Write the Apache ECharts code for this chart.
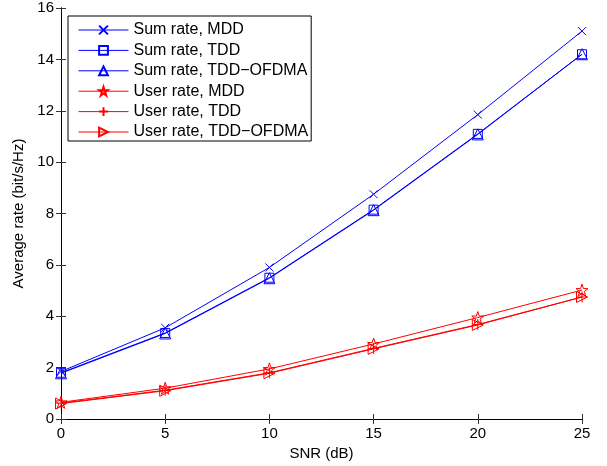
<!DOCTYPE html>
<html>
<head>
<meta charset="utf-8">
<script src="https://cdn.jsdelivr.net/npm/echarts@6/dist/echarts.min.js"></script>
<style>html,body{margin:0;padding:0;background:#fff;}#c{width:607px;height:466px;}</style>
</head>
<body>
<div id="c"></div>
<script>
const snr = [0, 5, 10, 15, 20, 25];
const sumMDD = [1.85, 3.55, 5.9, 8.75, 11.85, 15.1];
const sumTDD = [1.8, 3.35, 5.5, 8.15, 11.1, 14.2];
const sumOFDMA = [1.78, 3.33, 5.48, 8.13, 11.08, 14.2];
const userMDD = [0.65, 1.2, 1.95, 2.92, 3.95, 5.02];
const userTDD = [0.62, 1.12, 1.8, 2.75, 3.68, 4.75];
const userOFDMA = [0.6, 1.1, 1.78, 2.73, 3.66, 4.75];
const names = ['Sum rate, MDD', 'Sum rate, TDD', 'Sum rate, TDD\u2212OFDMA',
               'User rate, MDD', 'User rate, TDD', 'User rate, TDD\u2212OFDMA'];
const xTicks = [0, 5, 10, 15, 20, 25];
const yTicks = [0, 2, 4, 6, 8, 10, 12, 14, 16];

const FONT = 'Liberation Sans, Arial, Helvetica, sans-serif';
const BLUE = '#0000ff', RED = '#ff0000';
const SYM = {
  x: 'path://M0,0L10,10M10,0L0,10',
  rect: 'path://M0,0L10,0L10,10L0,10Z',
  tri: 'path://M5,0L10,9L0,9Z',
  star: 'path://M5,0L6.2,3.6L10,3.6L6.9,5.9L8.1,9.5L5,7.3L1.9,9.5L3.1,5.9L0,3.6L3.8,3.6Z',
  plus: 'path://M5,0L5,10M0,5L10,5',
  rtri: 'path://M0,0L10,5L0,10Z'
};
function mk(name, data, color, symbol, size) {
  return {
    name: name, type: 'line', data: snr.map((x, i) => [x, data[i]]),
    symbol: symbol, symbolSize: size, showSymbol: true,
    itemStyle: { color: 'rgba(0,0,0,0)', borderColor: color, borderWidth: 1 },
    lineStyle: { color: color, width: 1 },
    animation: false, z: 3
  };
}
const chart = echarts.init(document.getElementById('c'), null, { renderer: 'canvas' });
const axisCommon = {
  axisLine: { show: true, lineStyle: { color: '#000', width: 1 } },
  axisTick: { show: true, inside: true, length: 5, lineStyle: { color: '#333' } },
  splitLine: { show: false }
};
chart.setOption({
  backgroundColor: '#fff',
  textStyle: { fontFamily: FONT },
  grid: { left: 61, right: 25, top: 8, bottom: 47 },
  legend: {
    orient: 'vertical', left: 68, top: 16,
    data: names,
    itemWidth: 50, itemHeight: 11, itemGap: 4.4,
    padding: [6, 3, 1, 10],
    borderColor: '#000', borderWidth: 1, backgroundColor: '#fff',
    lineStyle: { width: 1 },
    textStyle: { fontSize: 16, color: '#000', fontFamily: FONT, padding: [0, 0, 0, 0] }
  },
  xAxis: [
    Object.assign({
      type: 'value', min: 0, max: 25, interval: 5, position: 'bottom',
      name: 'SNR (dB)', nameLocation: 'middle', nameGap: 25,
      nameTextStyle: { fontSize: 15, color: '#000', fontFamily: FONT },
      axisLabel: { fontSize: 15, color: '#000', margin: 7, fontFamily: FONT }
    }, axisCommon),
    Object.assign({
      type: 'value', min: 0, max: 25, interval: 5, position: 'top',
      axisLabel: { show: false }
    }, axisCommon)
  ],
  yAxis: [
    Object.assign({
      type: 'value', min: 0, max: 16, interval: 2, position: 'left',
      name: 'Average rate (bit/s/Hz)', nameLocation: 'middle', nameGap: 33,
      nameTextStyle: { fontSize: 15, color: '#000', fontFamily: FONT },
      axisLabel: { fontSize: 15, color: '#000', margin: 7, fontFamily: FONT }
    }, axisCommon),
    Object.assign({
      type: 'value', min: 0, max: 16, interval: 2, position: 'right',
      axisLabel: { show: false }
    }, axisCommon)
  ],
  series: [
    mk(names[0], sumMDD, BLUE, SYM.x, 8),
    mk(names[1], sumTDD, BLUE, SYM.rect, 9),
    mk(names[2], sumOFDMA, BLUE, SYM.tri, 11),
    mk(names[3], userMDD, RED, SYM.star, 12),
    mk(names[4], userTDD, RED, SYM.plus, 11),
    mk(names[5], userOFDMA, RED, SYM.rtri, 11)
  ]
});
</script>
</body>
</html>
